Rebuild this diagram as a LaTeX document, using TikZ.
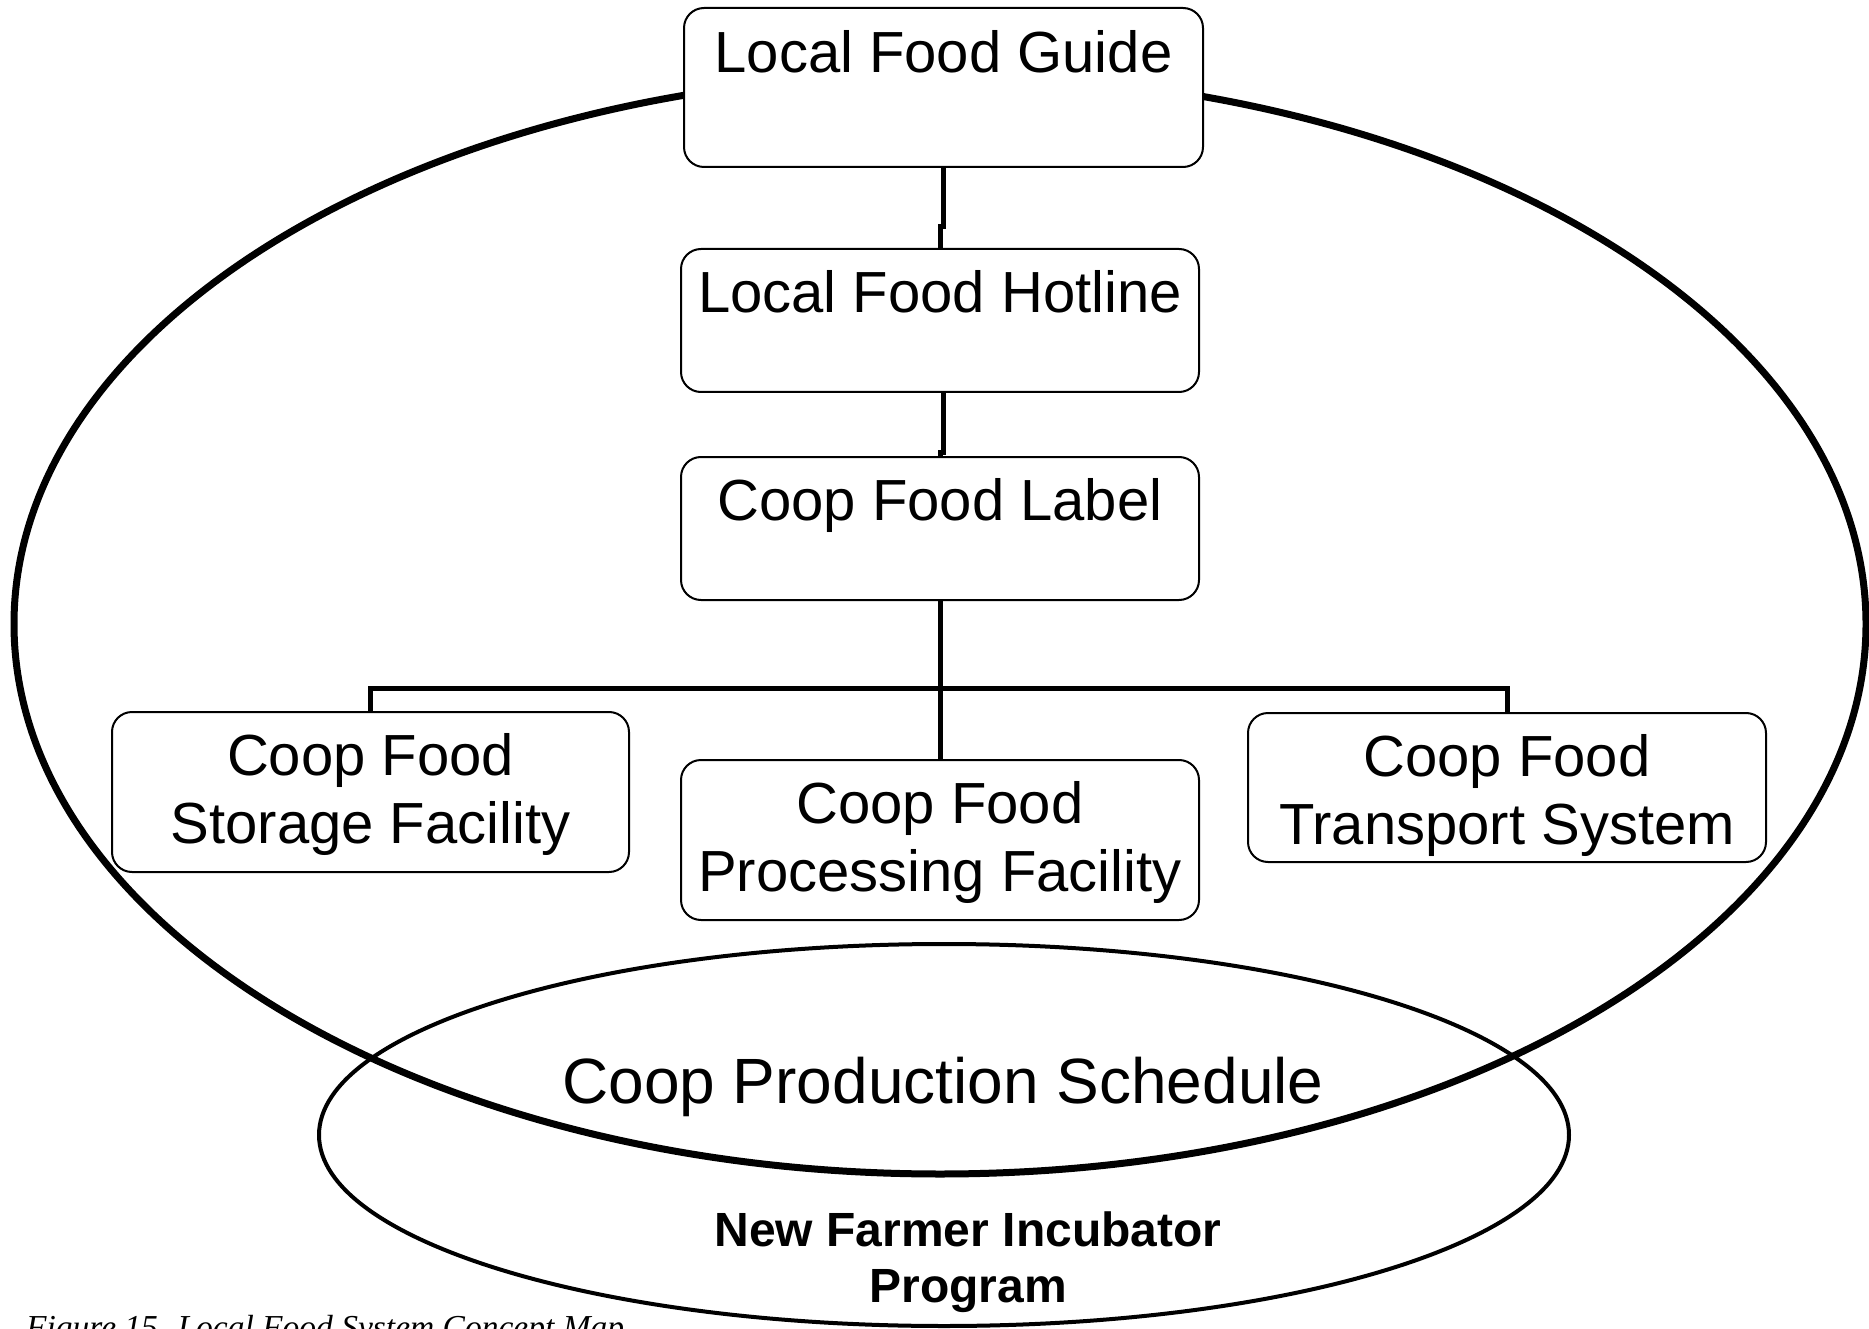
\documentclass[tikz,border=0pt]{standalone}
\usepackage{fontspec}
\setmainfont{Liberation Sans}
\newfontfamily\captionserif{Liberation Serif}
\begin{document}
\begin{tikzpicture}[x=1pt,y=-1pt,
  box/.style={draw=black, line width=2pt, rounded corners=20pt, fill=white,
    inner sep=0pt, minimum width=518pt},
  conn/.style={line width=5pt},
  lbl/.style={font=\fontsize{58}{68}\selectfont, align=center, anchor=base, inner sep=0pt}]
\useasboundingbox[fill=white] (0,0) rectangle (1869,1329);

% outer and lower ovals
\draw[line width=7pt] (940,624) ellipse [x radius=926pt, y radius=550pt];
\draw[line width=4pt] (944,1135) ellipse [x radius=625pt, y radius=191pt];

% concept boxes
\node[box, minimum width=519pt, minimum height=159pt] (b1) at (943.5,87.5) {};
\node[box, minimum height=143pt] (b2) at (940,320.5) {};
\node[box, minimum height=143pt] (b3) at (940,528.5) {};
\node[box, minimum width=517pt, minimum height=160pt] (b4) at (370.5,792) {};
\node[box, minimum height=160pt] (b5) at (940,840) {};
\node[box, minimum height=149pt] (b6) at (1507,787.5) {};

% connectors
\coordinate (bar) at (940,688);
\draw[conn] (b1.south) -- ++(0,59) -| (b2.north);
\draw[conn] ([xshift=3pt]b2.south) -- ++(0,59) -| (b3.north);
\draw[conn] (b3.south) -- (bar);
\draw[conn] (b4.north) |- (bar) -| (b6.north);
\draw[conn] (bar) -- (b5.north);

% box labels (multi-line labels sit on the baseline of their last line)
\node[lbl] (t1) at (943.5,73) {Local Food Guide};
\node[lbl] (t2) at (940,313) {Local Food Hotline};
\node[lbl] (t3) at (940,520) {Coop Food Label};
\node[lbl] (t4) at (370.5,843) {Coop Food\\Storage Facility};
\node[lbl] (t5) at (940,891) {Coop Food\\Processing Facility};
\node[lbl] (t6) at (1507,844) {Coop Food\\Transport System};

% oval labels
\node[font=\fontsize{64}{77}\selectfont, anchor=base, inner sep=0pt] (sched) at (943,1103) {Coop Production Schedule};
\node[font=\bfseries\fontsize{48}{56}\selectfont, align=center, anchor=base, inner sep=0pt] (incub) at (968,1302) {New Farmer Incubator\\Program};

% caption, cut by the page edge
\node[font=\captionserif\itshape\fontsize{33.5}{40}\selectfont, anchor=base west, inner sep=0pt] (cap) at (26,1338) {Figure 15. Local Food System Concept Map};
\end{tikzpicture}
\end{document}
